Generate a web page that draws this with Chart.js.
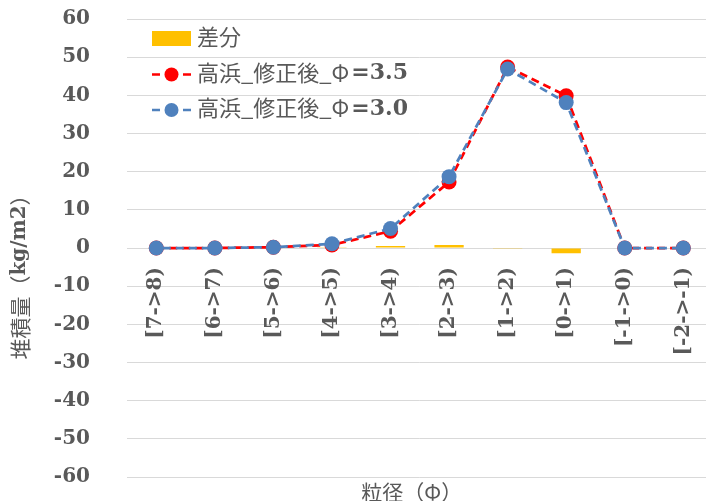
<!DOCTYPE html>
<html>
<head>
<meta charset="utf-8">
<script src="https://cdn.jsdelivr.net/npm/chart.js@4"></script>
<style>
  html, body { margin: 0; padding: 0; overflow: hidden; background: #fff; }
  #wrap { position: absolute; left: 0; top: 0; width: 727px; height: 501px; }
</style>
</head>
<body>
<div id="wrap"><canvas id="chart"></canvas></div>
<script>
// data
const categories = ['[7->8)', '[6->7)', '[5->6)', '[4->5)', '[3->4)', '[2->3)', '[1->2)', '[0->1)', '[-1->0)', '[-2->-1)'];
const diffValues = [0, 0, 0, 0.2, 0.5, 0.8, -0.2, -1.4, 0, 0];
const phi35Values = [0, 0, 0.2, 0.8, 4.4, 17.3, 47.4, 39.9, 0, 0];
const phi30Values = [0, 0, 0.2, 1.1, 5.1, 18.7, 46.9, 38.1, 0, 0];
const seriesNames = ['差分', '高浜_修正後_Φ=3.5', '高浜_修正後_Φ=3.0'];
const yMin = -60, yMax = 60, yStep = 10;

const textColor = '#595959';
const gridColor = '#d9d9d9';
const serifBold = { family: "'DejaVu Serif', serif", size: 20, weight: 'bold' };
const cjkFont = "21px 'Noto Sans CJK JP', sans-serif";
const serifFont = "bold 20px 'DejaVu Serif', serif";
const legendCjk = "22px 'Noto Sans CJK JP', sans-serif";
const legendSerif = "bold 22px 'DejaVu Serif', serif";

// legend + axis titles with mixed fonts
const extras = {
  id: 'extras',
  afterDraw(chart) {
    const ctx = chart.ctx;
    const area = chart.chartArea;
    ctx.save();
    ctx.fillStyle = textColor;
    ctx.textBaseline = 'middle';

    // y title
    ctx.save();
    ctx.translate(20, 272);
    ctx.rotate(-Math.PI / 2);
    const yParts = [['堆積量（', cjkFont], ['kg/m2', serifFont], ['）', cjkFont]];
    let total = 0;
    yParts.forEach(p => { ctx.font = p[1]; total += ctx.measureText(p[0]).width; });
    let cx = -total / 2;
    yParts.forEach(p => { ctx.font = p[1]; ctx.fillText(p[0], cx, 0); cx += ctx.measureText(p[0]).width; });
    ctx.restore();

    // x title
    ctx.font = cjkFont;
    ctx.textAlign = 'center';
    ctx.fillText('粒径（Φ）', (area.left + area.right) / 2 - 8, 492);
    ctx.textAlign = 'left';

    // legend
    const x0 = area.left + 25;
    chart.data.datasets.forEach((ds, i) => {
      const y = area.top + 20 + i * 35.5;
      if (ds.type === 'bar') {
        ctx.fillStyle = ds.backgroundColor;
        ctx.fillRect(x0, y - 8, 39, 15);
      } else {
        ctx.strokeStyle = ds.borderColor;
        ctx.lineWidth = 2.5;
        ctx.beginPath();
        ctx.moveTo(x0, y); ctx.lineTo(x0 + 8, y);
        ctx.moveTo(x0 + 31, y); ctx.lineTo(x0 + 39, y);
        ctx.stroke();
        ctx.fillStyle = ds.pointBackgroundColor;
        ctx.beginPath();
        ctx.arc(x0 + 19.5, y, 7, 0, Math.PI * 2);
        ctx.fill();
      }
      ctx.fillStyle = textColor;
      const k = ds.label.indexOf('=');
      const head = k < 0 ? ds.label : ds.label.slice(0, k);
      const tail = k < 0 ? '' : ds.label.slice(k);
      ctx.font = legendCjk;
      ctx.fillText(head, x0 + 45, y - 2);
      if (tail) {
        const w = ctx.measureText(head).width;
        ctx.font = legendSerif;
        ctx.fillText(tail, x0 + 45 + w + 2, y - 1);
      }
    });
    ctx.restore();
  }
};

new Chart(document.getElementById('chart'), {
  type: 'bar',
  data: {
    labels: categories,
    datasets: [
      {
        type: 'bar',
        label: seriesNames[0],
        data: diffValues,
        backgroundColor: '#FFC000',
        barPercentage: 0.5,
        categoryPercentage: 1,
        order: 3
      },
      {
        type: 'line',
        label: seriesNames[1],
        data: phi35Values,
        borderColor: '#FF0000',
        borderWidth: 2.75,
        borderDash: [8, 5],
        pointRadius: 7.5,
        pointBackgroundColor: '#FF0000',
        pointBorderColor: '#FF0000',
        pointBorderWidth: 0,
        tension: 0,
        order: 2
      },
      {
        type: 'line',
        label: seriesNames[2],
        data: phi30Values,
        borderColor: '#4F81BD',
        borderWidth: 2.75,
        borderDash: [8, 5],
        borderDashOffset: 6.5,
        pointRadius: 7.5,
        pointBackgroundColor: '#4F81BD',
        pointBorderColor: '#4F81BD',
        pointBorderWidth: 0,
        tension: 0,
        order: 1
      }
    ]
  },
  options: {
    responsive: true,
    maintainAspectRatio: false,
    animation: false,
    layout: { padding: { top: 19, right: 14, bottom: 24, left: 0 } },
    plugins: {
      legend: { display: false },
      tooltip: { enabled: false }
    },
    scales: {
      x: {
        position: { y: 0 },
        offset: true,
        grid: { display: false, drawTicks: false },
        border: { display: false },
        ticks: {
          autoSkip: false,
          minRotation: 90,
          maxRotation: 90,
          padding: 19,
          color: textColor,
          font: serifBold
        }
      },
      y: {
        min: yMin,
        max: yMax,
        afterFit: s => { s.width = 127; },
        grid: { color: gridColor, lineWidth: 1, drawTicks: true, tickLength: 34, tickColor: 'rgba(0,0,0,0)' },
        border: { display: false },
        ticks: {
          stepSize: yStep,
          padding: 3,
          color: textColor,
          font: serifBold
        }
      }
    }
  },
  plugins: [extras]
});
</script>
</body>
</html>
